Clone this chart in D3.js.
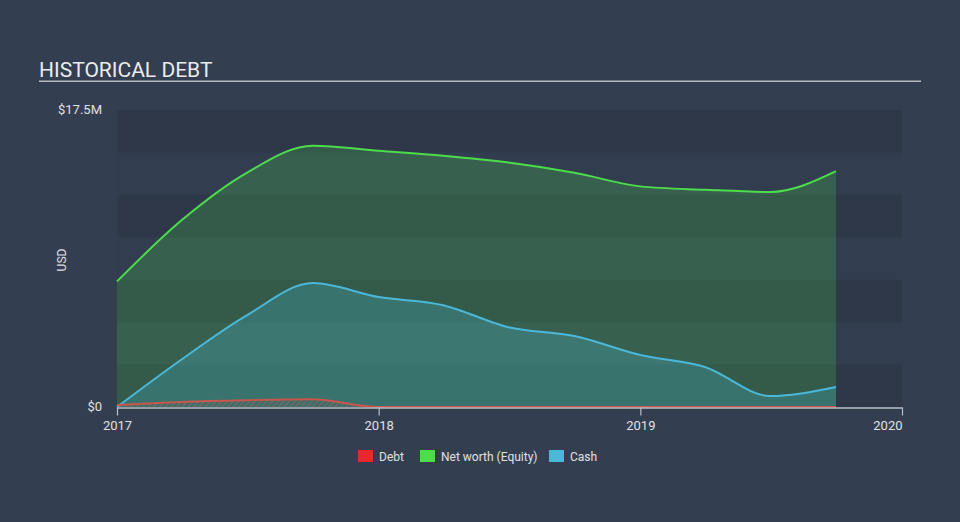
<!DOCTYPE html>
<html><head><meta charset="utf-8">
<script src="https://cdn.jsdelivr.net/npm/d3@7"></script>
<style>
html,body{margin:0;padding:0;background:#333f50;}
svg{display:block;font-family:Roboto,"Open Sans",sans-serif;}
</style></head>
<body>
<svg id="chart" width="960" height="522"></svg>
<script>
const dates = ["2017-01-01","2017-04-01","2017-07-01","2017-10-01","2018-01-01","2018-04-01","2018-07-01","2018-10-01","2019-01-01","2019-04-01","2019-07-01","2019-10-01"];
const netWorth = [7.4, 11.0, 13.8, 15.4, 15.1, 14.8, 14.4, 13.8, 13.0, 12.8, 12.67, 13.9];
const cash = [0.0, 2.8, 5.4, 7.3, 6.48, 6.0, 4.7, 4.18, 3.06, 2.36, 0.65, 1.18];
const debt = [0.12, 0.3, 0.4, 0.45, 0.0, 0.0, 0.0, 0.0, 0.0, 0.0, 0.0, 0.0];
const xTicks = ["2017","2018","2019","2020"];
const yTickLabels = ["$0","$17.5M"];
const yTickValues = [0, 17.5];
const legendItems = ["Debt","Net worth (Equity)","Cash"];

const parse = d3.timeParse("%Y-%m-%d");
const T = dates.map(parse);
const svg = d3.select("#chart");

const x = d3.scaleTime().domain([parse("2017-01-01"), parse("2020-01-01")]).range([117, 902]);
const y = d3.scaleLinear().domain([0, 17.5]).range([407, 110]);

// title
svg.append("text").attr("x", 39).attr("y", 77).attr("fill", "#ececec")
  .attr("font-size", 21).text("HISTORICAL DEBT");
svg.append("rect").attr("x", 39).attr("y", 80.5).attr("width", 882).attr("height", 1.5).attr("fill", "#b4b8c0");

// bands
const bandEdges = d3.range(0, 17.5, 2.5);
svg.append("g").selectAll("rect").data(bandEdges).join("rect")
  .attr("x", x.range()[0]).attr("width", x.range()[1] - x.range()[0])
  .attr("y", d => y(d + 2.5)).attr("height", d => y(d) - y(d + 2.5))
  .attr("fill", (d, i) => i % 2 === 0 ? "#2e3848" : "#323e4f");

// hatch pattern
const defs = svg.append("defs");
const pat = defs.append("pattern").attr("id", "hatch").attr("patternUnits", "userSpaceOnUse")
  .attr("width", 4).attr("height", 4).attr("patternTransform", "rotate(45)");
pat.append("rect").attr("width", 4).attr("height", 4).attr("fill", "#3d6f6a");
pat.append("line").attr("x1", 0).attr("y1", 0).attr("x2", 0).attr("y2", 4)
  .attr("stroke", "#a06058").attr("stroke-width", 1.5);

const curve = d3.curveMonotoneX;
function area(vals) {
  return d3.area().x((d, i) => x(T[i])).y0(y(0)).y1(d => y(d)).curve(curve)(vals);
}
function line(vals) {
  return d3.line().x((d, i) => x(T[i])).y(d => y(d)).curve(curve)(vals);
}

svg.append("path").attr("d", area(netWorth)).attr("fill", "rgba(76,217,76,0.22)");
svg.append("path").attr("d", area(cash)).attr("fill", "rgba(75,184,217,0.26)");
svg.append("path").attr("d", area(debt)).attr("fill", "url(#hatch)");

svg.append("path").attr("d", line(netWorth)).attr("fill", "none").attr("stroke", "#4cdc4c").attr("stroke-width", 2);
svg.append("path").attr("d", line(cash)).attr("fill", "none").attr("stroke", "#4bb8d9").attr("stroke-width", 2);
svg.append("path").attr("d", line(debt)).attr("fill", "none").attr("stroke", "#c8564a").attr("stroke-width", 2);

// x axis
const xAxis = d3.axisBottom(x).tickValues(xTicks.map(t => parse(t + "-01-01")))
  .tickFormat(d3.timeFormat("%Y")).tickSize(8).tickSizeOuter(0);
const gx = svg.append("g").attr("transform", `translate(0,${y(0) + 0.5})`).call(xAxis);
gx.select(".domain").attr("stroke", "#b8bcc6").attr("stroke-width", 1.5);
gx.selectAll(".tick line").attr("stroke", "#b8bcc6").attr("stroke-width", 1.2);
gx.selectAll(".tick text").attr("fill", "#e0e0e0").attr("font-size", 13).attr("dy", "0.85em")
  .attr("font-family", "Roboto, sans-serif")
  .attr("text-anchor", (d, i) => i === xTicks.length - 1 ? "end" : "middle");

// y labels
svg.append("g").selectAll("text").data(yTickValues).join("text")
  .attr("x", 102).attr("y", d => y(d) + 4).attr("text-anchor", "end")
  .attr("fill", "#e0e0e0").attr("font-size", 13).text((d, i) => yTickLabels[i]);

svg.append("text").attr("transform", "translate(66,260) rotate(-90)").attr("text-anchor", "middle")
  .attr("fill", "#e0e0e0").attr("font-size", 12).text("USD");

// legend
const legColors = ["#e8292c", "#4cdc4c", "#4bb8d9"];
const legX = [358, 420, 549];
const lg = svg.append("g");
legendItems.forEach((name, i) => {
  lg.append("rect").attr("x", legX[i]).attr("y", 450).attr("width", 15).attr("height", 12).attr("fill", legColors[i]);
  lg.append("text").attr("x", legX[i] + 21).attr("y", 460.5).attr("fill", "#e0e0e0").attr("font-size", 12).text(name);
});
</script>
</body></html>
